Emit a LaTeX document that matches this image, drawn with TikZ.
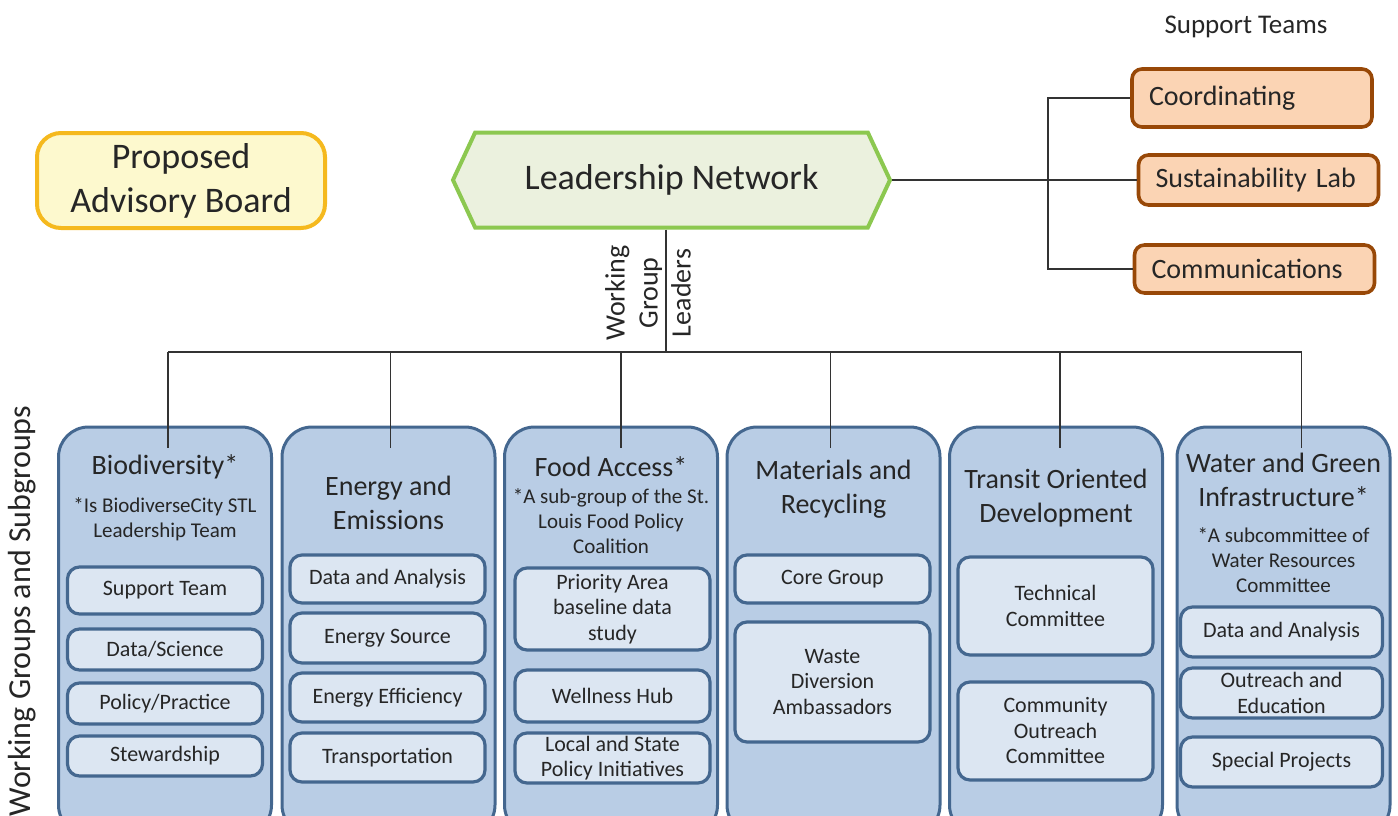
\documentclass[tikz,border=0pt]{standalone}
\usepackage{fontspec}
\setmainfont{Carlito}
\usetikzlibrary{shapes.symbols}
\definecolor{colfill}{RGB}{185,205,229}
\definecolor{colline}{RGB}{68,103,143}
\definecolor{subfill}{RGB}{220,230,242}
\definecolor{advfill}{RGB}{253,249,206}
\definecolor{advline}{RGB}{245,185,30}
\definecolor{lnfill}{RGB}{235,241,222}
\definecolor{lnline}{RGB}{140,200,80}
\definecolor{supfill}{RGB}{251,212,180}
\definecolor{supline}{RGB}{152,72,7}
\begin{document}
\begin{tikzpicture}[x=0.5pt,y=-0.5pt,
  col/.style={draw=colline,fill=colfill,line width=1.5pt,rounded corners=15pt,minimum width=106.5pt,minimum height=204pt},
  sub/.style={draw=colline,fill=subfill,line width=1.6pt,rounded corners=6pt,minimum width=97.5pt,inner sep=1pt,align=center,text=black!85,font=\fontsize{11}{12.75}\selectfont},
  ttl/.style={align=center,text=black!85,font=\fontsize{14}{17}\selectfont},
  note/.style={align=center,text=black!85,font=\fontsize{10.5}{12.5}\selectfont},
  sup/.style={draw=supline,fill=supfill,line width=1.8pt,rounded corners=5pt,text width=103pt,inner xsep=8.5pt,align=left,text=black!85,font=\fontsize{14}{17}\selectfont},
  link/.style={draw=black!80,line width=0.6pt}]
\useasboundingbox (0,0) rectangle (1398,815);
\node[draw=advline,fill=advfill,line width=2pt,rounded corners=12pt,minimum width=144pt,minimum height=47.5pt,align=center,text=black!85,font=\fontsize{18}{22}\selectfont] (adv) at (181,180.5) {Proposed\\Advisory Board};
\node[signal,signal to=west and east,signal pointer angle=130,draw=lnline,fill=lnfill,line width=2pt,minimum width=218.5pt,minimum height=47.5pt,text=black!85,font=\fontsize{18}{22}\selectfont] (ln) at (671.5,180) {Leadership Network};
\node[text=black!85,font=\fontsize{13.5}{16}\selectfont] (st) at (1246,27) {Support Teams};
\node[sup,minimum height=29pt] (coord) at (1252,98) {Coordinating};
\node[sup,minimum height=25pt] (slab) at (1258.5,180) {Sustainability Lab};
\node[sup,minimum height=24pt] (comm) at (1254.5,269) {Communications};
\coordinate (brk) at (1048,180);
\draw[link] (ln.east) -- (slab.west);
\draw[link] (coord.west) -| (brk) |- (comm.west);
% working groups
\coordinate (bus) at (0,352);
\draw[link] ([xshift=-2.75pt]ln.south) -- ([xshift=-2.75pt]ln.south |- bus);
\node[rotate=90,align=center,text=black!85,font=\fontsize{14}{16.5}\selectfont] (wgl) at (648,293) {Working\\Group\\Leaders};
\node[rotate=90,text=black!85,font=\fontsize{16}{19}\selectfont] (wgs) at (22,611) {Working Groups and Subgroups};
\node[col] (bio) at (165,631) {};
\node[col] (ene) at (388.5,631) {};
\node[col] (food) at (611,631) {};
\node[col] (mat) at (833.5,631) {};
\node[col] (tod) at (1056,631) {};
\node[col] (wat) at (1283.5,631) {};
\draw[link] ([xshift=1.5pt]bio.north |- bus) -- ([xshift=9pt]wat.north |- bus);
\foreach \c/\dx in {bio/1.5,ene/1,food/5,mat/-1.5,tod/2,wat/9}
  \draw[link] ([xshift=\dx pt,yshift=-11pt]\c.north) -- ([xshift=\dx pt]\c.north |- bus);
\node[ttl] (biot) at (165,467) {Biodiversity*};
\node[note] (bion) at (165,519.5) {*Is BiodiverseCity STL\\Leadership Team};
\node[sub,minimum height=23.5pt] (bio1) at (165,590.5) {Support Team};
\node[sub,minimum height=20.5pt] (bio2) at (165,649.5) {Data/Science};
\node[sub,minimum height=20.5pt] (bio3) at (165,703.5) {Policy/Practice};
\node[sub,minimum height=20pt] (bio4) at (165,756) {Stewardship};
\node[ttl] (enet) at (388.5,503) {Energy and\\Emissions};
\node[sub,minimum height=24pt] (ene1) at (387.5,579) {Data and Analysis};
\node[sub,minimum height=25pt] (ene2) at (387.5,638) {Energy Source};
\node[sub,minimum height=24.5pt] (ene3) at (387.5,697.5) {Energy Efficiency};
\node[sub,minimum height=24.5pt] (ene4) at (387.5,757.5) {Transportation};
\node[ttl] (foodt) at (611,467) {Food Access*};
\node[note] (foodn) at (611,521) {*A sub-group of the St.\\Louis Food Policy\\Coalition};
\node[sub,minimum height=41pt] (food1) at (612.5,609) {Priority Area\\baseline data\\study};
\node[sub,minimum height=26pt] (food2) at (612.5,696) {Wellness Hub};
\node[sub,minimum height=25pt] (food3) at (612.5,758) {Local and State\\Policy Initiatives};
\node[ttl] (matt) at (833.5,489.5) {Materials and\\Recycling};
\node[sub,minimum height=24pt] (mat1) at (832.5,579) {Core Group};
\node[sub,minimum height=60pt] (mat2) at (832.5,682) {Waste\\Diversion\\Ambassadors};
\node[ttl] (todt) at (1056,498.5) {Transit Oriented\\Development};
\node[sub,minimum height=49pt] (tod1) at (1055.5,606) {Technical\\Committee};
\node[sub,minimum height=49pt] (tod2) at (1055.5,731) {Community\\Outreach\\Committee};
\node[ttl] (watt) at (1283.5,480) {Water and Green\\Infrastructure*};
\node[note] (watn) at (1283.5,560.5) {*A subcommittee of\\Water Resources\\Committee};
\node[sub,minimum height=25pt,minimum width=101pt] (wat1) at (1281.5,632) {Data and Analysis};
\node[sub,minimum height=25pt,minimum width=101pt] (wat2) at (1281.5,693) {Outreach and\\Education};
\node[sub,minimum height=25pt,minimum width=101pt] (wat3) at (1281.5,762) {Special Projects};
\end{tikzpicture}
\end{document}
